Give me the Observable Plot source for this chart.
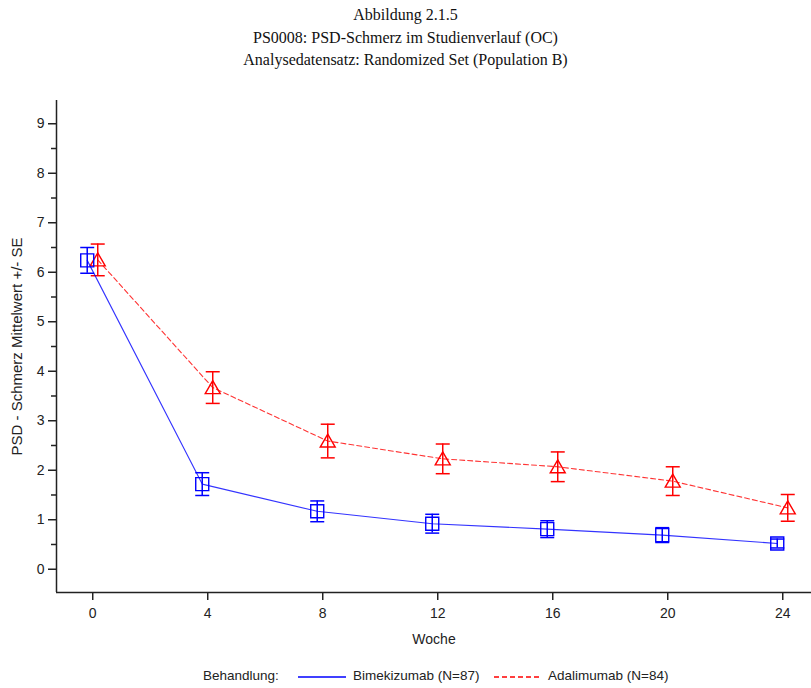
<!DOCTYPE html>
<html>
<head>
<meta charset="utf-8">
<script src="https://cdn.jsdelivr.net/npm/d3@7"></script>
<script src="https://cdn.jsdelivr.net/npm/@observablehq/plot@0.6"></script>
<style>
  body { margin: 0; background: #fff; }
  #wrap { width: 811px; position: relative; }
  #title { width: 811px; height: 90px; box-sizing: border-box; padding-top: 4px; text-align: center;
           font-family: "Liberation Serif", "Times New Roman", serif; font-size: 16px; line-height: 22.5px; color: #111; }
  #legend { position: relative; width: 811px; height: 38px; font-family: "Liberation Sans", Arial, sans-serif; font-size: 13.5px; color: #222; }
  #legend span, #legend svg { position: absolute; top: 18px; }
</style>
</head>
<body>
<div id="wrap">
  <div id="title"></div>
  <div id="chart"></div>
  <div id="legend"></div>
</div>
<script>
const titleLines = ["Abbildung 2.1.5", "PS0008: PSD-Schmerz im Studienverlauf (OC)", "Analysedatensatz: Randomized Set (Population B)"];
const xLabel = "Woche";
const yLabel = "PSD - Schmerz Mittelwert +/- SE";
const legendTitle = "Behandlung:";
const seriesNames = ["Bimekizumab (N=87)", "Adalimumab (N=84)"];

const weeks = [0, 4, 8, 12, 16, 20, 24];
const bimeMean = [6.24, 1.72, 1.17, 0.92, 0.81, 0.69, 0.52];
const bimeSE   = [0.26, 0.23, 0.21, 0.19, 0.17, 0.15, 0.09];
const adaMean  = [6.25, 3.67, 2.59, 2.23, 2.07, 1.78, 1.24];
const adaSE    = [0.32, 0.32, 0.34, 0.30, 0.30, 0.29, 0.27];

const xTicks = [0, 4, 8, 12, 16, 20, 24];
const yTicks = [0, 1, 2, 3, 4, 5, 6, 7, 8, 9];
const yMinor = [0.5, 1.5, 2.5, 3.5, 4.5, 5.5, 6.5, 7.5, 8.5];

const xDomain = [-1.26, 25];
const yDomain = [-0.47, 9.47];

const blue = "#0000ff", red = "#ff0000";

const bime = weeks.map((w, i) => ({week: w, mean: bimeMean[i], se: bimeSE[i]}));
const ada = weeks.map((w, i) => ({week: w, mean: adaMean[i], se: adaSE[i]}));

const capSymbol = { draw(ctx) { ctx.moveTo(-7, 0); ctx.lineTo(7, 0); } };
const squareSymbol = { draw(ctx) { ctx.rect(-6.5, -6.5, 13, 13); } };
const triSymbol = { draw(ctx) { ctx.moveTo(0, -7); ctx.lineTo(7.5, 6); ctx.lineTo(-7.5, 6); ctx.closePath(); } };

function seriesMarks(data, color, dx, symbol, dash) {
  return [
    Plot.line(data, {x: "week", y: "mean", stroke: color, strokeWidth: 1.1, strokeOpacity: 0.8, strokeDasharray: dash, dx}),
    Plot.ruleX(data, {x: "week", y1: d => d.mean - d.se, y2: d => d.mean + d.se, stroke: color, strokeWidth: 1.5, dx}),
    Plot.dot(data, {x: "week", y: d => d.mean + d.se, symbol: capSymbol, stroke: color, strokeWidth: 1.5, fill: "none", dx}),
    Plot.dot(data, {x: "week", y: d => d.mean - d.se, symbol: capSymbol, stroke: color, strokeWidth: 1.5, fill: "none", dx}),
    Plot.dot(data, {x: "week", y: "mean", symbol, stroke: color, strokeWidth: 1.4, fill: "none", dx})
  ];
}

document.getElementById("title").innerHTML = titleLines.map(t => `<div>${t}</div>`).join("");

const chart = Plot.plot({
  width: 811,
  height: 560,
  marginTop: 10,
  marginBottom: 58,
  marginLeft: 56,
  marginRight: 0,
  style: {fontFamily: "'Liberation Sans', Arial, sans-serif", fontSize: "14px", color: "#222", background: "white", overflow: "visible"},
  x: {domain: xDomain},
  y: {domain: yDomain},
  marks: [
    Plot.ruleY([yDomain[0]], {stroke: "#222", strokeWidth: 1.5}),
    Plot.ruleX([xDomain[0]], {stroke: "#222", strokeWidth: 1.5}),
    Plot.axisX(xTicks, {tickSize: 8, tickPadding: 8, label: null, stroke: "#222", strokeWidth: 1.5, fontSize: 14}),
    Plot.axisY(yTicks, {tickSize: 8, tickPadding: 4, label: null, stroke: "#222", strokeWidth: 1.5, fontSize: 14}),
    Plot.axisY(yMinor, {tickSize: 5, tickFormat: () => "", label: null, stroke: "#222", strokeWidth: 1.5}),
    ...seriesMarks(ada, red, 5, triSymbol, "5,3"),
    ...seriesMarks(bime, blue, -5.5, squareSymbol, null),
    Plot.text([xLabel], {frameAnchor: "bottom", dy: 51, fontSize: 14, fill: "#222"}),
    Plot.text([yLabel], {frameAnchor: "left", dx: -39, rotate: -90, textAnchor: "middle", fontSize: 15, fill: "#222"})
  ]
});
document.getElementById("chart").appendChild(chart);

const legend = document.getElementById("legend");
legend.innerHTML = `
  <span style="left:203px">${legendTitle}</span>
  <svg width="48" height="16" style="left:298px;top:19px"><line x1="0" x2="48" y1="8" y2="8" stroke="${blue}" stroke-width="1.5"/></svg>
  <span style="left:353px">${seriesNames[0]}</span>
  <svg width="48" height="16" style="left:494px;top:19px"><line x1="0" x2="48" y1="8" y2="8" stroke="${red}" stroke-width="1.5" stroke-dasharray="5,3"/></svg>
  <span style="left:548px">${seriesNames[1]}</span>`;
</script>
</body>
</html>
